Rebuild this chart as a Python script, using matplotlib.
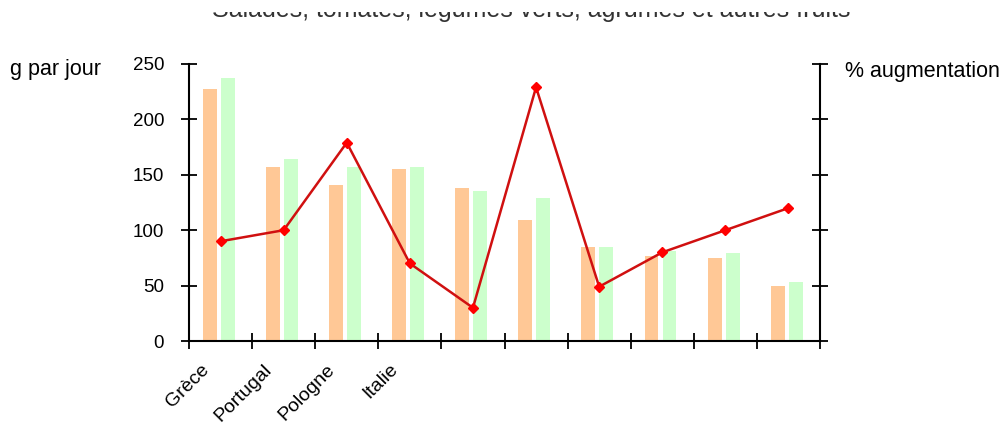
import matplotlib
matplotlib.use("Agg")
import matplotlib.pyplot as plt
import numpy as np
from matplotlib.patches import Rectangle

plt.rcParams['font.family'] = ['Liberation Sans', 'DejaVu Sans']

title = "Salades, tomates, légumes verts, agrumes et autres fruits"
categories = ["Grèce", "Portugal", "Pologne", "Italie", "", "", "", "", "", ""]
serie_a = [227, 157, 141, 155, 138, 109, 85, 77, 75, 50]
serie_b = [237, 164, 157, 157, 135, 129, 85, 81, 79, 53]
augmentation = [90, 100, 179, 70, 30, 229, 49, 80, 100, 120]
yticks = [0, 50, 100, 150, 200, 250]

fig = plt.figure(figsize=(10.08, 4.26), dpi=100)
ax = fig.add_axes([189/1008, 85/426, 631/1008, 277/426])

x = np.arange(len(categories)) + 0.5
w = 0.22
ax.bar(x - 0.17, serie_a, width=w, color='#FFC896', zorder=2)
ax.bar(x + 0.115, serie_b, width=w, color='#CCFFCC', zorder=2)

ax.set_xlim(0, len(categories))
ax.set_ylim(0, 250)
ax.set_yticks(yticks)
ax.set_yticklabels([str(v) for v in yticks], fontsize=13.5)
ax.set_xticks(np.arange(len(categories) + 1))
ax.set_xticklabels([])
for xi, lab in zip(x, categories):
    if lab:
        ax.text(xi - 0.32, -18, lab, rotation=45, ha='right', va='top',
                rotation_mode='anchor', fontsize=14, transform=ax.transData)

for s in ['top', 'right']:
    ax.spines[s].set_visible(False)
for s in ['left', 'bottom']:
    ax.spines[s].set_linewidth(1.5)
ax.tick_params(axis='both', direction='inout', length=12, width=1.3)
ax.tick_params(axis='y', pad=12)

ax2 = ax.twinx()
ax2.set_ylim(0, 250)
ax2.set_yticks(yticks)
ax2.set_yticklabels([])
ax2.plot(x, augmentation, color='#D01010', lw=1.8, marker='D', markersize=5.5,
         markerfacecolor='#FF0000', markeredgecolor='#FF0000', zorder=3)
for s in ['top', 'left', 'bottom']:
    ax2.spines[s].set_visible(False)
ax2.spines['right'].set_linewidth(1.5)
ax2.tick_params(axis='y', direction='inout', length=12, width=1.3)

fig.text(10/1008, 1 - 75/426, "g par jour", fontsize=15.5, ha='left', va='baseline')
fig.text(845/1008, 1 - 77/426, "% augmentation", fontsize=15.5, ha='left', va='baseline')

fig.text(531/1008, 1 - 17/426, title, fontsize=18, ha='center', va='baseline', color='#333333')
fig.patches.append(Rectangle((0, 1 - 12/426), 1, 12/426, transform=fig.transFigure,
                             facecolor='white', edgecolor='none', zorder=10))

fig.savefig("out.png", dpi=100)
